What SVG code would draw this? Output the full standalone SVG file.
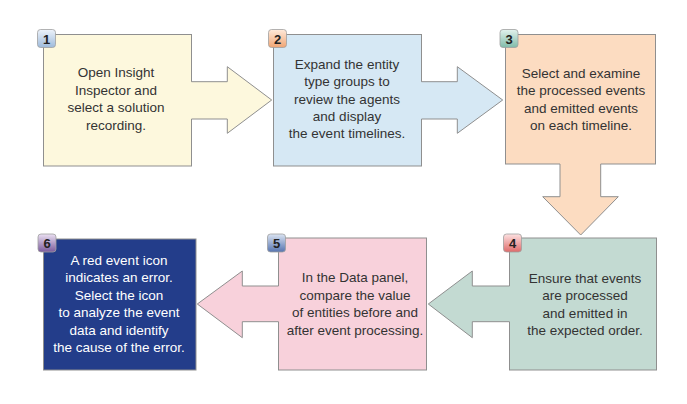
<svg xmlns="http://www.w3.org/2000/svg" width="687" height="404" viewBox="0 0 687 404">
<defs>
<linearGradient id="g1" x1="0" y1="0" x2="0" y2="1"><stop offset="0" stop-color="#eef3fa"/><stop offset="1" stop-color="#9dbadb"/></linearGradient>
<linearGradient id="g2" x1="0" y1="0" x2="0" y2="1"><stop offset="0" stop-color="#feeadb"/><stop offset="1" stop-color="#f0a574"/></linearGradient>
<linearGradient id="g3" x1="0" y1="0" x2="0" y2="1"><stop offset="0" stop-color="#e3f2ed"/><stop offset="1" stop-color="#80bba9"/></linearGradient>
<linearGradient id="g4" x1="0" y1="0" x2="0" y2="1"><stop offset="0" stop-color="#fde2e2"/><stop offset="1" stop-color="#de6a6a"/></linearGradient>
<linearGradient id="g5" x1="0" y1="0" x2="0" y2="1"><stop offset="0" stop-color="#dbe4f2"/><stop offset="1" stop-color="#5674b0"/></linearGradient>
<linearGradient id="g6" x1="0" y1="0" x2="0" y2="1"><stop offset="0" stop-color="#ebe0f2"/><stop offset="1" stop-color="#7a5a9c"/></linearGradient>
</defs>
<style>
.box{stroke:#8f8f8f;stroke-width:1}
.af{stroke:none}
.as{fill:none;stroke:#8f8f8f;stroke-width:1;stroke-linejoin:miter}
.badge{stroke:#a0a0a0;stroke-width:0.8}
.num{font-family:"Liberation Sans",Arial,sans-serif;font-size:13px;font-weight:bold;fill:#222;text-anchor:middle}
.t{font-family:"Liberation Sans",Arial,sans-serif;font-size:13.5px;fill:#333;text-anchor:middle}
.tw{fill:#fff}
.c1{fill:#fdf8dd}.c2{fill:#d6e8f4}.c3{fill:#fcdcc1}.c4{fill:#c3dad2}.c5{fill:#f8d1db}.c6{fill:#233d8a}
</style>
<rect width="687" height="404" fill="#fff"/>
<g id="node1">
<rect class="box c1" x="43.5" y="34.5" width="148" height="131.5"/>
</g>
<g id="node2">
<rect class="box c2" x="273.5" y="34.5" width="148" height="131.5"/>
</g>
<g id="node3">
<rect class="box c3" x="505.5" y="34.5" width="150" height="129.5"/>
</g>
<g id="node4">
<rect class="box c4" x="509.5" y="238" width="147" height="132"/>
</g>
<g id="node5">
<rect class="box c5" x="278.5" y="238" width="148" height="132"/>
</g>
<g id="node6">
<rect class="box c6" x="43.5" y="239" width="152.5" height="131"/>
</g>
<g id="connectors">
<g id="c1-2">
<path class="af c1" d="M190.5,81.7 H227.3 V66.7 L271.7,100 L227.3,133.3 V119 H190.5 Z"/>
<path class="as" d="M191.5,81.7 H227.3 V66.7 L271.7,100 L227.3,133.3 V119 H191.5"/>
</g>
<g id="c2-3">
<path class="af c2" d="M420.5,81.7 H457.3 V66.7 L502.7,100 L457.3,133.3 V119 H420.5 Z"/>
<path class="as" d="M421.5,81.7 H457.3 V66.7 L502.7,100 L457.3,133.3 V119 H421.5"/>
</g>
<g id="c3-4">
<path class="af c3" d="M560,163 V196.7 H542.7 L580.7,235 L618.3,196.7 H600.7 V163 Z"/>
<path class="as" d="M560,164 V196.7 H542.7 L580.7,235 L618.3,196.7 H600.7 V164"/>
</g>
<g id="c4-5">
<path class="af c4" d="M510.5,286 H472.3 V271 L428.3,304 L472.3,337.7 V321.7 H510.5 Z"/>
<path class="as" d="M509.5,286 H472.3 V271 L428.3,304 L472.3,337.7 V321.7 H509.5"/>
</g>
<g id="c5-6">
<path class="af c5" d="M279.5,286 H242.3 V271 L197.3,304 L242.3,337.7 V321.7 H279.5 Z"/>
<path class="as" d="M278.5,286 H242.3 V271 L197.3,304 L242.3,337.7 V321.7 H278.5"/>
</g>
</g>
<g id="labels">
<g id="label1">
<text class="t" x="116" y="77">Open Insight</text>
<text class="t" x="116" y="94.5">Inspector and</text>
<text class="t" x="116" y="112">select a solution</text>
<text class="t" x="116" y="129.5">recording.</text>
</g>
<g id="label2">
<text class="t" x="347" y="68.5">Expand the entity</text>
<text class="t" x="347" y="86">type groups to</text>
<text class="t" x="347" y="103.5">review the agents</text>
<text class="t" x="347" y="121">and display</text>
<text class="t" x="347" y="138">the event timelines.</text>
</g>
<g id="label3">
<text class="t" x="581" y="77.5">Select and examine</text>
<text class="t" x="581" y="95">the processed events</text>
<text class="t" x="581" y="112.5">and emitted events</text>
<text class="t" x="581" y="130">on each timeline.</text>
</g>
<g id="label4">
<text class="t" x="585" y="282.5">Ensure that events</text>
<text class="t" x="585" y="300">are processed</text>
<text class="t" x="585" y="317.5">and emitted in</text>
<text class="t" x="585" y="335">the expected order.</text>
</g>
<g id="label5">
<text class="t" x="355" y="282">In the Data panel,</text>
<text class="t" x="355" y="299.5">compare the value</text>
<text class="t" x="355" y="317">of entities before and</text>
<text class="t" x="355" y="334.5">after event processing.</text>
</g>
<g id="label6">
<text class="t tw" x="119" y="264.5">A red event icon</text>
<text class="t tw" x="119" y="282">indicates an error.</text>
<text class="t tw" x="119" y="299.5">Select the icon</text>
<text class="t tw" x="119" y="317">to analyze the event</text>
<text class="t tw" x="119" y="334.5">data and identify</text>
<text class="t tw" x="119" y="351.5">the cause of the error.</text>
</g>
</g>
<g id="badges">
<g id="badge1"><rect class="badge" x="37.5" y="29.5" width="18" height="18" rx="3" fill="url(#g1)"/><text class="num" x="46.5" y="43.5">1</text></g>
<g id="badge2"><rect class="badge" x="268.5" y="29.5" width="18" height="18" rx="3" fill="url(#g2)"/><text class="num" x="277.5" y="43.5">2</text></g>
<g id="badge3"><rect class="badge" x="500" y="29.5" width="18" height="18" rx="3" fill="url(#g3)"/><text class="num" x="509" y="43.5">3</text></g>
<g id="badge4"><rect class="badge" x="503.5" y="234" width="18" height="18" rx="3" fill="url(#g4)"/><text class="num" x="512.5" y="248">4</text></g>
<g id="badge5"><rect class="badge" x="267.5" y="234" width="18" height="18" rx="3" fill="url(#g5)"/><text class="num" x="276.5" y="248">5</text></g>
<g id="badge6"><rect class="badge" x="38" y="234" width="18" height="18" rx="3" fill="url(#g6)"/><text class="num" x="47" y="248">6</text></g>
</g>
</svg>
